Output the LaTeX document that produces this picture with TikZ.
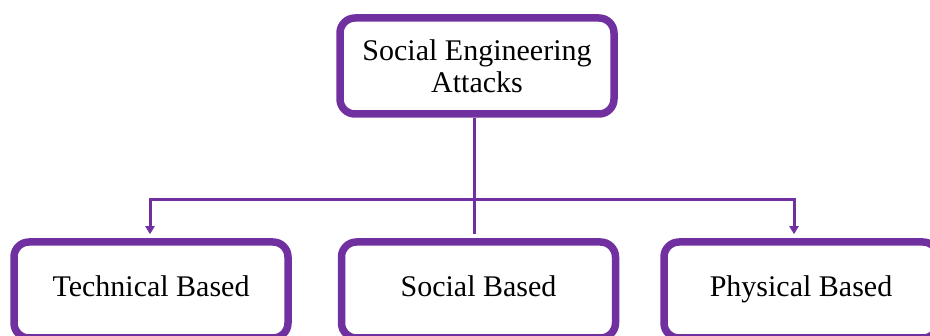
\documentclass[tikz,border=0pt]{standalone}
\usepackage{fontspec}
\setmainfont{Liberation Serif}
\usetikzlibrary{arrows.meta}
\definecolor{bpurple}{HTML}{7030A0}
\begin{document}
\begin{tikzpicture}[x=1pt,y=1pt,
  box/.style={draw=bpurple,line width=7.5pt,rounded corners=15pt,fill=white,
    minimum width=274pt,minimum height=96pt,align=center,inner sep=0pt,
    font=\fontsize{30}{32}\selectfont},
  conn/.style={draw=bpurple,line width=3pt},
  arr/.style={conn,-{Triangle[width=9pt,length=8pt]},shorten >=4pt}]
\useasboundingbox (0,0) rectangle (930,-336);
\node[box] (top) at (477,-66) {Social Engineering\\Attacks};
\node[box,text height=21pt,text depth=7pt] (left) at (151,-290) {Technical Based};
\node[box,text height=21pt,text depth=7pt] (mid) at (478.5,-290) {Social Based};
\node[box,text height=21pt,text depth=7pt] (right) at (801,-290) {Physical Based};
\coordinate (hl) at (150,-200);
\coordinate (hr) at (794,-200);
\coordinate (hm) at (474,-200);
\draw[conn] (hm |- top.south) -- (hm);
\draw[conn,line cap=rect] (hl) -- (hr);
\draw[arr] (hl) -- (hl |- left.north);
\draw[conn,shorten >=4pt] (hm) -- (hm |- mid.north);
\draw[arr] (hr) -- (hr |- right.north);
\end{tikzpicture}
\end{document}
